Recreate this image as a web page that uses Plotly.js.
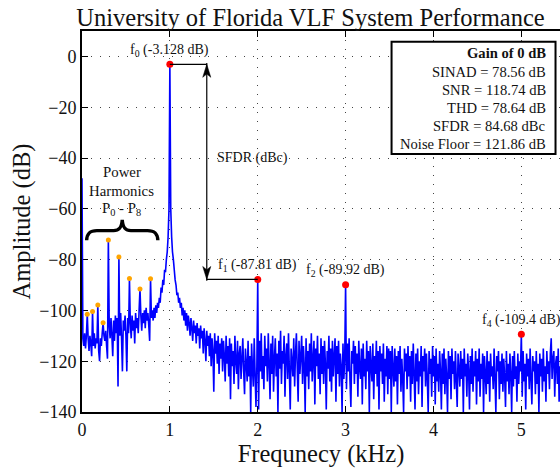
<!DOCTYPE html>
<html>
<head>
<meta charset="utf-8">
<script src="https://cdn.plot.ly/plotly-3.0.1.min.js"></script>
<style>
  html, body { margin: 0; padding: 0; background: #fff; }
  #chart { width: 560px; height: 471px; }
</style>
</head>
<body>
<div id="chart"></div>
<script>
// ---- Spectrum data (FFT bins every 10 Hz, levels in dB) ----
const binStepKHz = 0.01;
const noiseDb = [
  // 0.00 - 0.09 kHz (DC bin first)
  -48, -111, -114, -109, -115, -110, -113, -111, -116, -110,
  // 0.10 - 0.19
  -113, -118, -110, -114, -109, -115, -111, -113, -110, -116,
  // 0.20 - 0.29
  -120, -111, -114, -109, -113, -110, -112, -108, -114, -119,
  // 0.30 - 0.39
  -119, -106, -111, -103, -110, -118, -104, -112, -102, -109,
  // 0.40 - 0.49
  -103, -130, -105, -110, -101, -111, -124, -104, -108, -102,
  // 0.50 - 0.59
  -110, -124, -103, -109, -112, -105, -111, -102, -108, -104,
  // 0.60 - 0.69
  -113, -101, -107, -103, -109, -100, -106, -102, -108, -101,
  // 0.70 - 0.79
  -105, -100, -107, -99, -104, -101, -106, -112, -100, -103,
  // 0.80 - 0.89
  -100, -104, -99, -103, -98, -101, -97, -99, -95, -97,
  // 0.90 - 0.99 (leakage skirt of the carrier)
  -91, -93, -88, -90, -84, -85, -80, -77, -71, -60,
  // 1.00 - 1.09
  -10, -60, -71, -77, -80, -84, -88, -90, -94, -93,
  // 1.10 - 1.19
  -97, -95, -99, -97, -102, -99, -104, -100, -106, -101,
  // 1.20 - 1.29
  -108, -102, -105, -110, -103, -107, -112, -104, -109, -106,
  // 1.30 - 1.39
  -113, -105, -110, -107, -115, -106, -111, -108, -117, -107,
  // 1.40 - 1.49
  -112, -120, -108, -114, -110, -118, -109, -122, -111, -116,
  // 1.50 - 1.59
  -132, -109, -117, -112, -121, -110, -125, -113, -119, -111,
  // 1.60 - 1.69
  -124, -112, -118, -128, -110, -121, -114, -126, -111, -135,
  // 1.70 - 1.79
  -113, -122, -116, -129, -110, -120, -125, -112, -131, -117,
  // 1.80 - 1.89
  -114, -127, -119, -111, -124, -133, -115, -121, -128, -112,
  // 1.90 - 1.99
  -126, -118, -140, -113, -123, -130, -111, -125, -138, -122,
  // 2.00 - 2.09
  -120, -139, -112, -124, -109, -127, -118, -131, -110, -122,
  // 2.10 - 2.19
  -115, -128, -109, -121, -135, -113, -125, -110, -132, -119,
  // 2.20 - 2.29
  -111, -126, -117, -140, -112, -123, -108, -129, -116, -121,
  // 2.30 - 2.39
  -110, -134, -118, -113, -127, -109, -124, -139, -115, -120,
  // 2.40 - 2.49
  -126, -111, -130, -117, -109, -123, -136, -112, -125, -118,
  // 2.50 - 2.59
  -110, -129, -114, -122, -140, -111, -126, -116, -131, -113,
  // 2.60 - 2.69
  -124, -109, -128, -119, -112, -137, -115, -122, -110, -127,
  // 2.70 - 2.79
  -117, -133, -111, -125, -114, -129, -112, -121, -139, -116,
  // 2.80 - 2.89
  -123, -110, -128, -115, -132, -112, -126, -118, -111, -136,
  // 2.90 - 2.99
  -114, -125, -112, -130, -117, -122, -140, -113, -127, -119,
  // 3.00 - 3.09
  -115, -131, -113, -124, -111, -128, -138, -116, -121, -112,
  // 3.10 - 3.19
  -129, -114, -125, -117, -134, -112, -123, -127, -115, -137,
  // 3.20 - 3.29
  -113, -126, -119, -131, -112, -124, -116, -140, -114, -122,
  // 3.30 - 3.39
  -128, -113, -135, -118, -125, -112, -130, -116, -139, -114,
  // 3.40 - 3.49
  -124, -117, -129, -113, -136, -119, -126, -114, -133, -115,
  // 3.50 - 3.59
  -127, -116, -140, -114, -123, -130, -115, -128, -118, -137,
  // 3.60 - 3.69
  -116, -125, -114, -132, -119, -127, -140, -115, -124, -117,
  // 3.70 - 3.79
  -131, -114, -126, -118, -136, -116, -129, -113, -125, -139,
  // 3.80 - 3.89
  -117, -128, -115, -133, -120, -126, -114, -138, -118, -124,
  // 3.90 - 3.99
  -115, -130, -117, -127, -140, -116, -125, -119, -134, -114,
  // 4.00 - 4.09
  -126, -118, -137, -115, -128, -121, -132, -116, -124, -139,
  // 4.10 - 4.19
  -117, -129, -115, -133, -119, -126, -140, -116, -127, -118,
  // 4.20 - 4.29
  -135, -115, -125, -120, -131, -116, -128, -138, -117, -123,
  // 4.30 - 4.39
  -130, -116, -127, -119, -140, -115, -126, -121, -134, -117,
  // 4.40 - 4.49
  -124, -139, -118, -129, -115, -132, -120, -126, -116, -137,
  // 4.50 - 4.59
  -119, -128, -115, -134, -121, -127, -117, -140, -118, -125,
  // 4.60 - 4.69
  -133, -116, -129, -120, -136, -117, -126, -122, -131, -115,
  // 4.70 - 4.79
  -127, -140, -118, -124, -116, -135, -120, -129, -117, -132,
  // 4.80 - 4.89
  -119, -126, -138, -116, -128, -121, -133, -117, -125, -140,
  // 4.90 - 4.99
  -118, -130, -116, -127, -122, -136, -117, -129, -120, -124,
  // 5.00 - 5.09
  -118, -134, -116, -128, -121, -139, -117, -126, -119, -131,
  // 5.10 - 5.19
  -115, -127, -137, -118, -124, -120, -133, -116, -129, -121,
  // 5.20 - 5.29
  -140, -117, -126, -119, -132, -115, -128, -122, -136, -116,
  // 5.30 - 5.39
  -125, -120, -131, -117, -111, -127, -119, -116, -134, -121,
  // 5.40 - 5.44
  -118, -129, -115, -136, -122
];

// Power-line harmonics P0..P8 (60 Hz family)
const harmonicKHz = [0.06, 0.12, 0.18, 0.24, 0.30, 0.42, 0.54, 0.66, 0.78];
const harmonicDb  = [-101.5, -100.4, -97.9, -104.9, -72.3, -79.0, -87.4, -91.6, -87.5];

// Carrier and its harmonics
const toneKHz   = [1, 2, 3, 5];
const toneDb    = [-3.128, -87.81, -89.92, -109.4];
const toneNames = ['f<sub>0</sub>', 'f<sub>1</sub>', 'f<sub>2</sub>', 'f<sub>4</sub>'];

// Summary statistics
const statNames  = ['SINAD', 'SNR', 'THD', 'SFDR', 'Noise Floor'];
const statValues = [78.56, 118.74, 78.64, 84.68, 121.86];
const statUnits  = ['dB', 'dB', 'dB', 'dBc', 'dB'];

const xTicks = [0, 1, 2, 3, 4, 5];
const yTicks = [-140, -120, -100, -80, -60, -40, -20, 0];

// ---- Build the spectrum series ----
const freqKHz = noiseDb.map((_, i) => +(i * binStepKHz).toFixed(2));
const spectrumDb = noiseDb.slice();
harmonicKHz.forEach((f, i) => { spectrumDb[Math.round(f / binStepKHz)] = harmonicDb[i]; });
toneKHz.forEach((f, i) => { spectrumDb[Math.round(f / binStepKHz)] = toneDb[i]; });

const SERIF = 'Liberation Serif, Times New Roman, serif';
const INK = '#111';

const traces = [
  {
    x: freqKHz, y: spectrumDb, type: 'scatter', mode: 'lines',
    line: { color: '#0000ff', width: 1.6, simplify: false },
    hoverinfo: 'skip'
  },
  {
    x: harmonicKHz, y: harmonicDb, type: 'scatter', mode: 'markers',
    marker: { color: '#ffa500', size: 5 }, hoverinfo: 'skip'
  },
  {
    x: toneKHz, y: toneDb, type: 'scatter', mode: 'markers',
    marker: { color: '#ff0000', size: 7 }, hoverinfo: 'skip'
  }
];

// SFDR bracket geometry
const arrowX = 1.42;
const headLen = 5.1;     // dB
const headHalf = 0.046;  // kHz
const topDb = toneDb[0], botDb = toneDb[1];

const shapes = [
  // carrier level to bracket
  { type: 'line', xref: 'x', yref: 'y', x0: toneKHz[0], x1: arrowX, y0: topDb, y1: topDb,
    line: { color: '#000', width: 1.2 } },
  // vertical shaft
  { type: 'line', xref: 'x', yref: 'y', x0: arrowX, x1: arrowX, y0: topDb + 0.5, y1: botDb - 0.5,
    line: { color: '#000', width: 1.2 } },
  // spur level to bracket
  { type: 'line', xref: 'x', yref: 'y', x0: arrowX, x1: toneKHz[1], y0: botDb, y1: botDb,
    line: { color: '#000', width: 1.2 } },
  // arrowheads
  { type: 'path', xref: 'x', yref: 'y',
    path: `M ${arrowX},${topDb} L ${arrowX - headHalf},${topDb - headLen} L ${arrowX},${topDb - headLen * 0.75} L ${arrowX + headHalf},${topDb - headLen} Z`,
    fillcolor: '#000', line: { color: '#000', width: 0.5 } },
  { type: 'path', xref: 'x', yref: 'y',
    path: `M ${arrowX},${botDb} L ${arrowX - headHalf},${botDb + headLen} L ${arrowX},${botDb + headLen * 0.75} L ${arrowX + headHalf},${botDb + headLen} Z`,
    fillcolor: '#000', line: { color: '#000', width: 0.5 } },
  // curly brace over the power harmonics
  { type: 'path', xref: 'x', yref: 'y',
    path: 'M 0.053,-72.4 C 0.056,-69.8 0.085,-68.6 0.17,-68.6 L 0.36,-68.6 C 0.425,-68.6 0.452,-67.4 0.458,-64.4 ' +
          'C 0.464,-67.4 0.491,-68.6 0.556,-68.6 L 0.746,-68.6 C 0.831,-68.6 0.86,-69.8 0.863,-72.4',
    line: { color: '#000', width: 3.4 } },
  // statistics box
  { type: 'rect', xref: 'x', yref: 'y', x0: 3.523, x1: 5.389, y0: 5.8, y1: -38.4,
    fillcolor: '#fff', line: { color: '#000', width: 2 } }
];

const annotations = [];
toneKHz.forEach((f, i) => {
  annotations.push({
    x: f, y: toneDb[i], xref: 'x', yref: 'y', showarrow: false,
    text: `${toneNames[i]} (${toneDb[i]} dB)`, xanchor: 'center', yanchor: 'middle', yshift: 14,
    font: { family: SERIF, size: 14, color: INK }
  });
});
annotations.push({
  x: 1.51, y: -40, xref: 'x', yref: 'y', showarrow: false, text: 'SFDR (dBc)',
  xanchor: 'left', yanchor: 'middle', font: { family: SERIF, size: 14, color: INK }
});
['Power', 'Harmonics', 'P<sub>0</sub> - P<sub>8</sub>'].forEach((t, i) => {
  annotations.push({
    x: 0.452, y: -45.7, xref: 'x', yref: 'y', showarrow: false, text: t,
    xanchor: 'center', yanchor: 'middle', yshift: -18.2 * i,
    font: { family: SERIF, size: 14.8, color: INK }
  });
});
const statLines = ['<b>Gain of 0 dB</b>'].concat(
  statNames.map((n, i) => `${n} = ${statValues[i]} ${statUnits[i]}`));
statLines.forEach((t, i) => {
  annotations.push({
    x: 5.30, y: 1.18, xref: 'x', yref: 'y', showarrow: false, text: t,
    xanchor: 'right', yanchor: 'middle', yshift: -18.2 * i,
    font: { family: SERIF, size: 14.6, color: INK }
  });
});

const axisCommon = {
  showline: true, linecolor: '#000', linewidth: 2,
  ticks: 'inside', ticklen: 6, tickwidth: 1, tickcolor: '#000',
  showgrid: true, gridcolor: '#444', gridwidth: 1, griddash: '1px,8px',
  zeroline: false, layer: 'below traces',
  tickfont: { family: SERIF, size: 18, color: INK }
};

const layout = {
  width: 560, height: 471,
  margin: { l: 82, r: 0, t: 31, b: 59 },
  paper_bgcolor: '#fff', plot_bgcolor: '#fff',
  showlegend: false,
  title: {
    text: 'University of Florida VLF System Performance',
    font: { family: SERIF, size: 24.5, color: INK },
    x: 0.5545, xanchor: 'center', y: 0.962, yanchor: 'middle'
  },
  xaxis: Object.assign({}, axisCommon, {
    range: [0, 5.44], tickvals: xTicks, mirror: 'ticks',
    title: { text: 'Frequnecy (kHz)', font: { family: SERIF, size: 24.5, color: INK }, standoff: 6 }
  }),
  yaxis: Object.assign({}, axisCommon, {
    range: [-140, 10], tickvals: yTicks, mirror: false,
    title: { text: 'Amplitude (dB)', font: { family: SERIF, size: 24.5, color: INK }, standoff: 2 }
  }),
  shapes: shapes,
  annotations: annotations
};

Plotly.newPlot('chart', traces, layout, { staticPlot: true, displayModeBar: false });
</script>
</body>
</html>
